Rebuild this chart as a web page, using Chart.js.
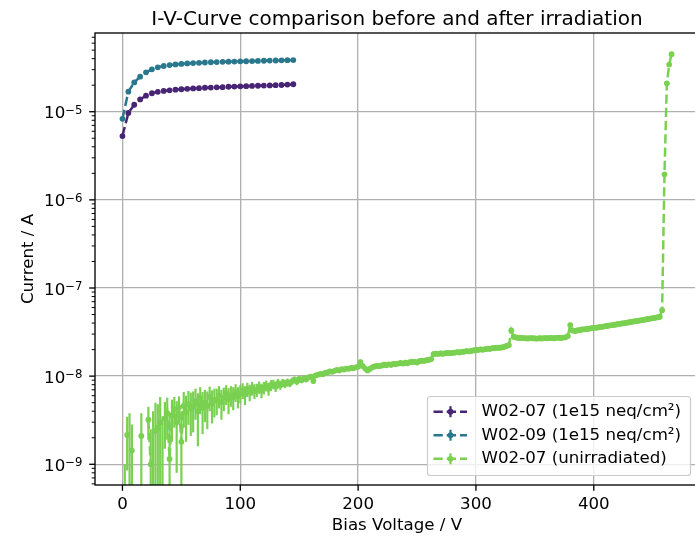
<!DOCTYPE html>
<html>
<head>
<meta charset="utf-8">
<script src="https://cdn.jsdelivr.net/npm/chart.js@4.4.1/dist/chart.umd.min.js"></script>
<style>
html, body { margin: 0; padding: 0; background: #fff; overflow: hidden; }
canvas { display: block; }
</style>
</head>
<body>
<canvas id="ivChart" width="705" height="537"></canvas>
<script>
// series labels + colours (viridis picks)
const seriesLabels = ['W02-07 (1e15 neq/cm²)', 'W02-09 (1e15 neq/cm²)', 'W02-07 (unirradiated)'];
const seriesColors = ['#482475', '#2a788e', '#7ad151'];

// irradiated sensors, bias voltage in V
const irrVoltage = [0, 5, 10, 15, 20, 25, 30, 35, 40, 45, 50, 55, 60, 65, 70, 75, 80, 85, 90, 95,
    100, 105, 110, 115, 120, 125, 130, 135, 140, 145];

// current in A
const w0207IrrCurrent = [5.3e-6, 9.7e-6, 1.20e-5, 1.38e-5, 1.52e-5, 1.62e-5, 1.68e-5, 1.72e-5, 1.75e-5, 1.78e-5,
    1.80e-5, 1.82e-5, 1.84e-5, 1.85e-5, 1.87e-5, 1.88e-5, 1.89e-5, 1.90e-5, 1.92e-5, 1.93e-5,
    1.94e-5, 1.95e-5, 1.96e-5, 1.97e-5, 1.98e-5, 1.99e-5, 2.00e-5, 2.01e-5, 2.03e-5, 2.05e-5];
const w0209IrrCurrent = [8.3e-6, 1.69e-5, 2.15e-5, 2.50e-5, 2.80e-5, 3.03e-5, 3.19e-5, 3.30e-5, 3.38e-5, 3.44e-5,
    3.49e-5, 3.53e-5, 3.56e-5, 3.59e-5, 3.62e-5, 3.64e-5, 3.66e-5, 3.68e-5, 3.70e-5, 3.71e-5,
    3.73e-5, 3.74e-5, 3.76e-5, 3.77e-5, 3.79e-5, 3.80e-5, 3.81e-5, 3.83e-5, 3.84e-5, 3.86e-5];

// unirradiated sensor, bias voltage in V
const unirrVoltage = [
    0, 2, 4, 6, 8, 10, 12, 14, 16, 18,
    20, 22, 24, 26, 28, 30, 32, 34, 36, 38,
    40, 42, 44, 46, 48, 50, 52, 54, 56, 58,
    60, 62, 64, 66, 68, 70, 72, 74, 76, 78,
    80, 82, 84, 86, 88, 90, 92, 94, 96, 98,
    100, 102, 104, 106, 108, 110, 112, 114, 116, 118,
    120, 122, 124, 126, 128, 130, 132, 134, 136, 138,
    140, 142, 144, 146, 148, 150, 152, 154, 156, 158,
    160, 162, 164, 166, 168, 170, 172, 174, 176, 178,
    180, 182, 184, 186, 188, 190, 192, 194, 196, 198,
    200, 202, 204, 206, 208, 210, 212, 214, 216, 218,
    220, 222, 224, 226, 228, 230, 232, 234, 236, 238,
    240, 242, 244, 246, 248, 250, 252, 254, 256, 258,
    260, 262, 264, 266, 268, 270, 272, 274, 276, 278,
    280, 282, 284, 286, 288, 290, 292, 294, 296, 298,
    300, 302, 304, 306, 308, 310, 312, 314, 316, 318,
    320, 322, 324, 326, 328, 330, 332, 334, 336, 338,
    340, 342, 344, 346, 348, 350, 352, 354, 356, 358,
    360, 362, 364, 366, 368, 370, 372, 374, 376, 378,
    380, 382, 384, 386, 388, 390, 392, 394, 396, 398,
    400, 402, 404, 406, 408, 410, 412, 414, 416, 418,
    420, 422, 424, 426, 428, 430, 432, 434, 436, 438,
    440, 442, 444, 446, 448, 450, 452, 454, 456, 458,
    460, 462, 464, 466];

// current in nA (negative readings fall off the log axis)
const unirrCurrentNA = [
    -1, -0.5, 2.15, -0.3, 1.43, -2, -2, -1.5, 2.1, -1,
    -1, 3.2, 1.0, -0.5, 2.4, 2.6, 3.0, -0.5, 3.3, 3.8,
    1.15, 3.6, 4.2, 3.0, 4.4, 1.8, 4.6, 3.9, 4.8, 4.3,
    4.5, 5.2, 4.0, 5.6, 4.4, 5.0, 4.6, 5.8, 4.9, 5.3,
    5.4, 6.0, 5.1, 5.7, 6.3, 5.5, 6.1, 5.8, 6.6, 5.9,
    6.4, 6.9, 6.2, 7.1, 6.6, 7.3, 6.8, 7.0, 7.5, 6.9,
    7.4, 7.8, 7.2, 7.9, 8.1, 7.6, 8.3, 7.9, 8.4, 8.2,
    8.5, 8.3, 8.8, 9.1, 8.7, 9.3, 9.0, 9.5, 9.2, 9.7,
    9.9, 8.8, 10.2, 10.4, 10.6, 10.5, 10.9, 11.0, 11.3, 11.2,
    11.5, 11.8, 11.6, 12.0, 11.9, 12.2, 12.1, 12.4, 12.3, 12.6,
    12.8, 14.4, 13.0, 12.2, 11.6, 12.1, 12.6, 12.9, 13.1, 13.0,
    13.2, 13.5, 13.3, 13.6, 13.5, 13.8, 13.7, 13.9, 14.1, 13.9,
    14.2, 14.0, 14.4, 14.6, 14.5, 14.3, 14.8, 15.0, 14.9, 15.2,
    15.3, 15.6, 17.8, 18.0, 17.9, 18.1, 18.0, 18.2, 18.3, 18.2,
    18.4, 18.5, 18.7, 18.6, 18.9, 19.0, 19.2, 19.1, 19.4, 19.6,
    19.8, 19.9, 20.1, 20.0, 20.3, 20.5, 20.4, 20.8, 20.9, 21.0,
    21.0, 21.2, 21.5, 22.0, 22.5, 33.0, 28.0, 27.5, 27.0, 27.2,
    27.0, 26.9, 26.8, 27.0, 26.9, 26.8, 26.7, 26.9, 26.8, 27.0,
    26.9, 27.0, 27.1, 26.9, 27.2, 27.3, 27.1, 27.4, 27.6, 28.5,
    38.0, 33.0, 32.5, 33.0, 33.4, 33.8, 34.0, 34.3, 34.6, 35.0,
    35.3, 35.5, 35.8, 36.2, 36.5, 37.0, 37.3, 37.7, 38.0, 38.4,
    38.8, 39.2, 39.6, 40.0, 40.4, 40.9, 41.3, 41.8, 42.2, 42.6,
    43.0, 43.5, 44.0, 44.5, 45.0, 45.5, 46.0, 46.5, 47.2, 56.0,
    1950, 21000, 34300, 45000];

// error in nA up to 458 V, the breakdown points have none
const unirrErrorNA = [
    0.5, 1.5, 1.3, 4.1, 1.4, 1, 1, 1, 1.7, 1.5,
    1, 1.3, 1.5, 4.5, 2.6, 2.2, 2.8, 4.0, 1.8, 1.9,
    2.5, 1.8, 1.6, 2.2, 1.5, 2.2, 2.0, 2.1, 2.0, 2.2,
    2.2, 2.0, 2.4, 1.9, 2.2, 2.0, 2.1, 1.8, 2.0, 1.9,
    1.8, 1.7, 1.9, 1.7, 1.6, 1.8, 1.6, 1.7, 1.5, 1.6,
    1.5, 1.4, 1.5, 1.3, 1.4, 1.3, 1.3, 1.2, 1.2, 1.3,
    1.2, 1.1, 1.2, 1.1, 1.0, 1.0, 1.0, 0.9, 0.9, 0.9,
    0.9, 0.8, 0.8, 0.8, 0.8, 0.7, 0.7, 0.7, 0.7, 0.7,
    0.7, 0.6, 0.6, 0.6, 0.6, 0.5, 0.5, 0.5, 0.5, 0.5,
    0.5, 0.5, 0.4, 0.4, 0.4, 0.4, 0.4, 0.4, 0.4, 0.4,
    0.9, 1.0, 0.9, 0.8, 0.8, 0.9, 0.9, 0.9, 0.9, 0.9,
    0.9, 1.0, 0.9, 0.9, 1.0, 0.9, 1.0, 0.9, 1.0, 0.9,
    1.0, 0.9, 1.0, 1.0, 1.0, 1.0, 1.1, 1.0, 1.0, 1.1,
    1.1, 1.1, 1.3, 1.3, 1.2, 1.3, 1.3, 1.2, 1.3, 1.3,
    1.3, 1.3, 1.3, 1.3, 1.3, 1.4, 1.4, 1.3, 1.4, 1.4,
    1.4, 1.4, 1.4, 1.4, 1.4, 1.5, 1.4, 1.5, 1.5, 1.5,
    1.5, 1.5, 1.5, 1.6, 1.6, 2.3, 2.0, 1.9, 1.9, 1.9,
    1.9, 1.9, 1.9, 1.9, 1.9, 1.9, 1.8, 1.9, 1.9, 1.9,
    1.9, 1.9, 1.9, 1.9, 1.9, 1.9, 1.9, 1.9, 1.9, 2.0,
    2.6, 2.3, 2.3, 2.3, 2.3, 2.4, 2.4, 2.4, 2.4, 2.4,
    2.5, 2.5, 2.5, 2.5, 2.6, 2.6, 2.6, 2.6, 2.7, 2.7,
    2.7, 2.7, 2.8, 2.8, 2.8, 2.9, 2.9, 2.9, 3.0, 3.0,
    3.0, 3.0, 3.1, 3.1, 3.2, 3.2, 3.2, 3.3, 3.3, 2.5];

// ticks
const xTickValues = [0, 100, 200, 300, 400];
const yTickExponents = [-9, -8, -7, -6, -5];

const FONT = '"DejaVu Sans", sans-serif';
const nA = 1e-9;

function toPoints(xs, ys) {
    return xs.map((x, i) => ({ x: x, y: ys[i] > 0 ? ys[i] : null }));
}

function makeDataset(i, points, errors, order) {
    return {
        label: seriesLabels[i],
        data: points,
        errors: errors,
        order: order,
        borderColor: seriesColors[i],
        backgroundColor: seriesColors[i],
        borderWidth: 2.5,
        borderDash: [9.25, 4],
        pointRadius: 2.9,
        pointBorderWidth: 0,
        pointBackgroundColor: seriesColors[i],
        tension: 0,
        spanGaps: false
    };
}

// draws error bars, frame, ticks, text, legend like matplotlib does
const mplPlugin = {
    id: 'mplPlugin',
    beforeDatasetDraw(chart, args) {
        const ds = chart.data.datasets[args.index];
        if (!ds.errors) return;
        const { ctx, chartArea: a } = chart;
        const xs = chart.scales.x, ys = chart.scales.y;
        ctx.save();
        ctx.beginPath();
        ctx.rect(a.left, a.top, a.right - a.left, a.bottom - a.top);
        ctx.clip();
        ctx.strokeStyle = ds.borderColor;
        ctx.lineWidth = 2.2;
        ds.errors.forEach((e, i) => {
            const v = ds.rawValues[i];
            const hi = v + e, lo = v - e;
            if (hi <= 0) return;
            const px = xs.getPixelForValue(ds.data[i].x);
            const yHi = ys.getPixelForValue(hi);
            const yLo = lo > 0 ? ys.getPixelForValue(lo) : a.bottom + 5;
            ctx.beginPath();
            ctx.moveTo(px, yHi);
            ctx.lineTo(px, yLo);
            ctx.stroke();
        });
        ctx.restore();
    },
    afterDraw(chart) {
        const { ctx, chartArea: a } = chart;
        const xs = chart.scales.x, ys = chart.scales.y;
        ctx.save();

        // frame
        ctx.strokeStyle = '#000';
        ctx.lineWidth = 1.33;
        ctx.strokeRect(a.left, a.top, a.right - a.left, a.bottom - a.top);

        // x ticks
        xTickValues.forEach(v => {
            const px = xs.getPixelForValue(v);
            ctx.beginPath();
            ctx.moveTo(px, a.bottom);
            ctx.lineTo(px, a.bottom + 5.8);
            ctx.stroke();
        });

        // y ticks, major + minor
        for (let e = -10; e <= -4; e++) {
            for (let m = 1; m <= 9; m++) {
                const v = m * Math.pow(10, e);
                if (v < ys.min || v > ys.max) continue;
                const py = ys.getPixelForValue(v);
                const len = m === 1 ? 5.8 : 3.3;
                ctx.lineWidth = m === 1 ? 1.33 : 1;
                ctx.beginPath();
                ctx.moveTo(a.left - len, py);
                ctx.lineTo(a.left, py);
                ctx.stroke();
            }
        }

        // y tick labels 10^n
        ctx.fillStyle = '#000';
        ctx.textBaseline = 'alphabetic';
        ctx.textAlign = 'left';
        yTickExponents.forEach(ex => {
            const py = ys.getPixelForValue(Math.pow(10, ex));
            const sup = '\u2212' + Math.abs(ex);
            ctx.font = '11.7px ' + FONT;
            const wSup = ctx.measureText(sup).width;
            ctx.font = '16.67px ' + FONT;
            const wBase = ctx.measureText('10').width;
            const right = 82.5;
            ctx.fillText('10', right - wSup - wBase, py + 6.6);
            ctx.font = '11.7px ' + FONT;
            ctx.fillText(sup, right - wSup, py + 1.8);
        });

        // title
        const cx = (a.left + a.right) / 2;
        ctx.textAlign = 'center';
        ctx.font = '20px ' + FONT;
        ctx.fillText('I-V-Curve comparison before and after irradiation', cx, 25);

        // axis labels
        ctx.font = '16.67px ' + FONT;
        ctx.fillText('Bias Voltage / V', cx, 530);
        ctx.save();
        ctx.translate(33, (a.top + a.bottom) / 2);
        ctx.rotate(-Math.PI / 2);
        ctx.fillText('Current / A', 0, 0);
        ctx.restore();

        // legend
        const lx = 427.5, ly = 396.5, lw = 263, lh = 79;
        ctx.beginPath();
        ctx.roundRect(lx, ly, lw, lh, 3);
        ctx.fillStyle = 'rgba(255,255,255,0.8)';
        ctx.fill();
        ctx.strokeStyle = '#cccccc';
        ctx.lineWidth = 1.2;
        ctx.stroke();
        const rows = [411.7, 435.2, 458.8];
        seriesLabels.forEach((lab, i) => {
            const ry = rows[i];
            const col = seriesColors[i];
            ctx.strokeStyle = col;
            ctx.fillStyle = col;
            ctx.lineWidth = 2.5;
            ctx.setLineDash([9.25, 4]);
            ctx.beginPath();
            ctx.moveTo(433.5, ry);
            ctx.lineTo(467, ry);
            ctx.stroke();
            ctx.setLineDash([]);
            ctx.lineWidth = 2.2;
            ctx.beginPath();
            ctx.moveTo(450.5, ry - 5.5);
            ctx.lineTo(450.5, ry + 5.5);
            ctx.stroke();
            ctx.beginPath();
            ctx.arc(450.5, ry, 2.9, 0, Math.PI * 2);
            ctx.fill();
            ctx.fillStyle = '#000';
            ctx.textAlign = 'left';
            ctx.textBaseline = 'middle';
            ctx.font = '16.67px ' + FONT;
            ctx.fillText(lab, 481.5, ry);
        });
        ctx.restore();
    }
};

const greenRaw = unirrCurrentNA.map(v => v * nA);
const dsPurple = makeDataset(0, toPoints(irrVoltage, w0207IrrCurrent), null, 3);
const dsTeal = makeDataset(1, toPoints(irrVoltage, w0209IrrCurrent), null, 2);
const dsGreen = makeDataset(2, toPoints(unirrVoltage, greenRaw), unirrErrorNA.map(e => e * nA), 1);
dsGreen.rawValues = greenRaw;

const ctx = document.getElementById('ivChart').getContext('2d');
const ivChart = new Chart(ctx, {
    type: 'line',
    data: { datasets: [dsPurple, dsTeal, dsGreen] },
    options: {
        responsive: false,
        animation: false,
        events: [],
        layout: { padding: { top: 33, right: 6, left: 0, bottom: 0 } },
        plugins: {
            legend: { display: false },
            tooltip: { enabled: false },
            title: { display: false }
        },
        scales: {
            x: {
                type: 'linear',
                min: -23.3,
                max: 489.3,
                afterFit: s => { s.height = 52; },
                afterBuildTicks: s => { s.ticks = xTickValues.map(v => ({ value: v })); },
                ticks: {
                    color: '#000',
                    font: { family: FONT, size: 16.67 },
                    padding: 10,
                    maxRotation: 0,
                    callback: v => String(v)
                },
                grid: { color: '#b0b0b0', lineWidth: 1.33, drawTicks: false },
                border: { display: false }
            },
            y: {
                type: 'logarithmic',
                min: 5.82e-10,
                max: 7.82e-5,
                afterFit: s => { s.width = 95; },
                afterBuildTicks: s => { s.ticks = yTickExponents.map(e => ({ value: Math.pow(10, e) })); },
                ticks: { display: false },
                grid: { color: '#b0b0b0', lineWidth: 1.33, drawTicks: false },
                border: { display: false }
            }
        }
    },
    plugins: [mplPlugin]
});
</script>
</body>
</html>
